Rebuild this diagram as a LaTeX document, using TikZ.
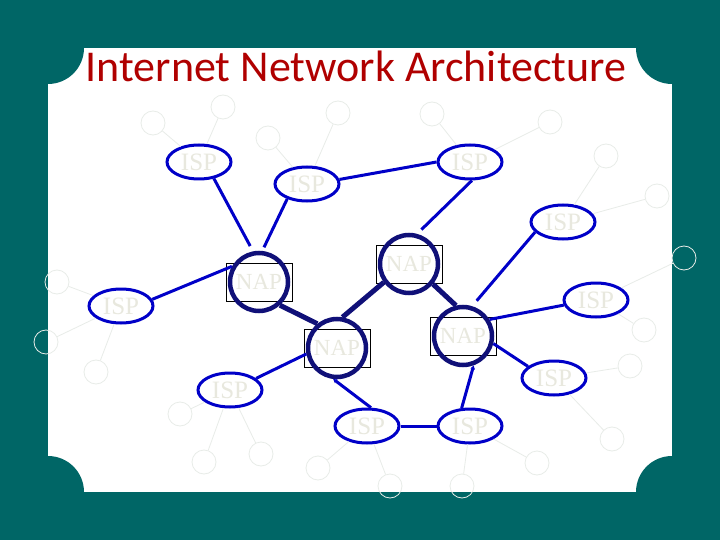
\documentclass[tikz,border=0pt]{standalone}
\usepackage{fontspec}
\setmainfont{Liberation Serif}
\newfontfamily\titlefont{Carlito}
\usepackage{tikz}
\usetikzlibrary{shapes.geometric,arrows.meta}

\definecolor{slidebg}{RGB}{0,102,102}
\definecolor{titlered}{RGB}{176,0,0}
\definecolor{ispblue}{RGB}{0,0,200}
\definecolor{napnavy}{RGB}{16,16,120}
\definecolor{labelgray}{RGB}{232,232,222}
\definecolor{hostgray}{RGB}{232,236,232}

\begin{document}
\begin{tikzpicture}[x=1pt, y=-1pt,
	isp/.style={ellipse, draw=ispblue, line width=3pt, minimum width=64pt, minimum height=34pt, inner sep=0pt, text=labelgray, font=\fontsize{25}{25}\selectfont},
	napbox/.style={rectangle, draw=black, line width=0.7pt, minimum width=66pt, minimum height=38pt, inner sep=0pt, text=labelgray, font=\fontsize{23}{23}\selectfont},
	napring/.style={circle, draw=napnavy, line width=4.5pt, minimum size=58pt, inner sep=0pt},
	host/.style={circle, draw=hostgray, line width=0.8pt, minimum size=24pt, inner sep=0pt},
	ispedge/.style={draw=ispblue, line width=3pt},
	napedge/.style={draw=napnavy, line width=5pt},
	hostedge/.style={draw=hostgray, line width=0.8pt},
	tip/.style={-{Stealth[length=4pt,width=4.5pt]}}]
				\useasboundingbox (0,0) rectangle (720,540);
				\fill[slidebg] (0,0) rectangle (720,540);
				\fill[white] (48,48) rectangle (672,492);
				\foreach \cx/\cy in {48/48,672/48,48/492,672/492}
					\fill[slidebg] (\cx,\cy) circle (36pt);
				
				\node[font=\titlefont\fontsize{44}{44}\selectfont, text=titlered, anchor=base, inner sep=0pt] (title) at (356,82) {Internet Network Architecture};
				
				\node[isp] (isp1) at (199,162) {ISP};
				\node[isp] (isp2) at (307,184) {ISP};
				\node[isp] (isp3) at (470,162) {ISP};
				\node[isp] (isp4) at (563,222) {ISP};
				\node[isp] (isp5) at (596,300) {ISP};
				\node[isp] (isp6) at (554,378) {ISP};
				\node[isp] (isp7) at (470,426) {ISP};
				\node[isp] (isp8) at (367,426) {ISP};
				\node[isp] (isp9) at (230,390) {ISP};
				\node[isp] (isp10) at (121,306) {ISP};
				
				\node[napbox] (nap1box) at (259,282) {NAP};
				\node[napring] (nap1) at (nap1box) {};
				\node[napbox] (nap2box) at (409,264) {NAP};
				\node[napring] (nap2) at (nap2box) {};
				\node[napbox] (nap3box) at (463,336) {NAP};
				\node[napring] (nap3) at (nap3box) {};
				\node[napbox] (nap4box) at (337,348) {NAP};
				\node[napring] (nap4) at (nap4box) {};
				
				\node[host] (host1a) at (153,123){};
				\node[host] (host1b) at (223,107){};
				\node[host] (host2a) at (268,138){};
				\node[host] (host2b) at (338,113){};
				\node[host] (host3a) at (432,114){};
				\node[host] (host3b) at (550,122){};
				\node[host] (host4a) at (606,156){};
				\node[host] (host4b) at (657,196){};
				\node[host] (host5a) at (684,258){};
				\node[host] (host5b) at (644,330){};
				\node[host] (host6a) at (630,366){};
				\node[host] (host6b) at (612,439){};
				\node[host] (host7a) at (462,486){};
				\node[host] (host7b) at (537,463){};
				\node[host] (host8a) at (390,486){};
				\node[host] (host8b) at (318,468){};
				\node[host] (host9a) at (180,414){};
				\node[host] (host9b) at (204,462){};
				\node[host] (host9c) at (261,454){};
				\node[host] (host10a) at (57,282){};
				\node[host] (host10b) at (46,342){};
				\node[host] (host10c) at (96,372){};
				
				\path (host1a) edge[hostedge] (isp1) (host1b) edge[hostedge] (isp1);
				\path (host2a) edge[hostedge] (isp2) (host2b) edge[hostedge] (isp2);
				\path (host3a) edge[hostedge] (isp3) (host3b) edge[hostedge] (isp3);
				\path (host4a) edge[hostedge] (isp4) (host4b) edge[hostedge] (isp4);
				\path (host5a) edge[hostedge] (isp5) (host5b) edge[hostedge] (isp5);
				\path (host6a) edge[hostedge] (isp6) (host6b) edge[hostedge] (isp6);
				\path (host7a) edge[hostedge] (isp7) (host7b) edge[hostedge] (isp7);
				\path (host8a) edge[hostedge] (isp8) (host8b) edge[hostedge] (isp8);
				\path (host9a) edge[hostedge] (isp9) (host9b) edge[hostedge] (isp9) (host9c) edge[hostedge] (isp9);
				\path (host10a) edge[hostedge] (isp10) (host10b) edge[hostedge] (isp10) (host10c) edge[hostedge] (isp10);
				
				\path (isp1.-48) edge[ispedge, shorten >=6pt] (nap1.101);
				\path (isp2.-143) edge[ispedge, shorten >=4pt] (nap1.84);
				\path (isp2.8) edge[ispedge] (isp3.180);
				\path (isp3.-84) edge[ispedge, shorten >=6pt] (nap2.75);
				\path (isp4.-160) edge[ispedge, shorten >=7pt] (nap3.73);
				\path (isp5.-171) edge[ispedge] (nap3.32);
				\path (nap3.-14) edge[ispedge] (isp6.156);
				\path (isp7.115) edge[ispedge, tip] (nap3.-70);
				\path (isp8.0) edge[ispedge] (isp7.180);
				\path (isp8.78) edge[ispedge, tip] (nap4.-97);
				\path (isp9.24) edge[ispedge] (nap4.-169);
				\path (nap1.150) edge[ispedge] (isp10.12);
				
				\path (nap1.-48) edge[napedge] (nap4.129);
				\path (nap4.80) edge[napedge] (nap2.-144);
				\path (nap2.-40) edge[napedge] (nap3.103);
				\end{tikzpicture}
\end{document}
